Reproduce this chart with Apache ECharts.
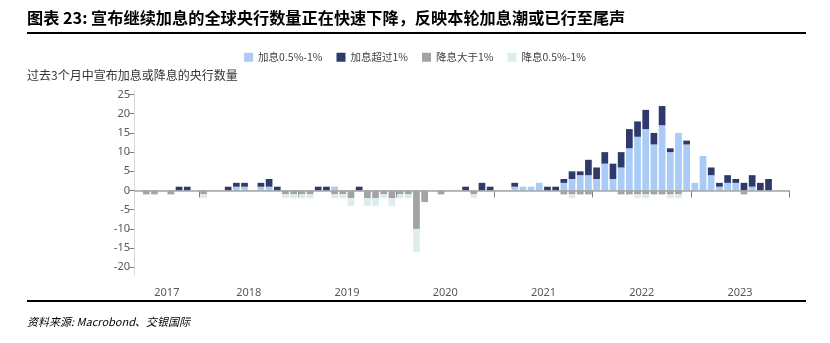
<!DOCTYPE html>
<html>
<head>
<meta charset="utf-8">
<script src="https://cdn.jsdelivr.net/npm/echarts@6/dist/echarts.min.js"></script>
<style>
  html, body { margin: 0; padding: 0; background: #ffffff; }
  #chart { width: 830px; height: 343px; }
</style>
</head>
<body>
<div id="chart"></div>
<script>
// Monthly categories, May 2017 – Dec 2023
const years = [2017, 2018, 2019, 2020, 2021, 2022, 2023];
const months = [];
years.forEach(function (y) {
  for (let m = (y === 2017 ? 5 : 1); m <= 12; m++) {
    months.push(y + '-' + (m < 10 ? '0' + m : '' + m));
  }
});

// Number of central banks (past 3 months), one row per year
const hike05 = [
  0, 0, 0, 0, 0, 0, 0, 0,
  0, 0, 0, 0, 1, 1, 0, 1, 1, 0, 0, 0,
  0, 0, 0, 0, 1, 0, 0, 0, 0, 0, 0, 0,
  0, 0, 0, 0, 0, 0, 0, 0, 0, 0, 0, 0,
  0, 0, 1, 1, 1, 2, 0, 0, 2, 3, 4, 4,
  3, 7, 3, 6, 11, 14, 16, 12, 17, 10, 15, 12,
  2, 9, 4, 1, 2, 2, 0, 1, 0, 0, 0, 0
];
const hikeOver1 = [
  0, 0, 0, 0, 0, 1, 1, 0,
  0, 0, 0, 1, 1, 1, 0, 1, 2, 1, 0, 0,
  0, 0, 1, 1, 0, 0, 0, 1, 0, 0, 0, 0,
  0, 0, 0, 0, 0, 0, 0, 0, 1, 0, 2, 1,
  0, 0, 1, 0, 0, 0, 1, 1, 1, 2, 1, 4,
  3, 3, 4, 4, 5, 4, 5, 3, 5, 1, 0, 1,
  0, 0, 2, 1, 2, 1, 2, 3, 2, 3, 0, 0
];
const cutOver1 = [
  0, -1, -1, 0, -1, 0, 0, 0,
  -1, 0, 0, 0, 0, 0, 0, 0, 0, 0, -1, -1,
  -1, -1, 0, 0, -1, -1, -2, 0, -2, -2, -1, -2,
  -1, -1, -10, -3, 0, -1, 0, 0, 0, -1, 0, 0,
  0, 0, 0, 0, 0, 0, 0, 0, -1, -1, -1, -1,
  0, 0, 0, -1, -1, -1, -1, -1, -1, -1, -1, 0,
  0, 0, 0, 0, 0, 0, -1, 0, 0, 0, 0, 0
];
const cut05 = [
  0, 0, 0, 0, 0, 0, 0, 0,
  -1, 0, 0, 0, 0, 0, 0, 0, 0, 0, -1, -1,
  -1, -1, 0, 0, -1, -1, -2, 0, -2, -2, -1, -2,
  -1, -1, -6, 0, 0, 0, 0, 0, 0, -1, 0, 0,
  0, 0, 0, 0, 0, 0, 0, 0, 0, -1, 0, 0,
  0, 0, 0, 0, 0, -1, -1, 0, 0, -1, -1, 0,
  0, 0, 0, 0, 0, 0, 0, 0, 0, 0, 0, 0
];

const seriesNames = ['加息0.5%-1%', '加息超过1%', '降息大于1%', '降息0.5%-1%'];
const seriesColors = ['#a9cbf5', '#2e3a6c', '#a3a3a3', '#dcedef'];
const yTicks = [-20, -15, -10, -5, 0, 5, 10, 15, 20, 25];

const chart = echarts.init(document.getElementById('chart'), null, { renderer: 'canvas' });

function asBars(arr) {
  return arr.map(function (v) { return v === 0 ? null : v; });
}

const seriesData = [hike05, hikeOver1, cutOver1, cut05];
const series = seriesData.map(function (arr, i) {
  const s = {
    name: seriesNames[i],
    type: 'bar',
    stack: 'banks',
    data: asBars(arr),
    barCategoryGap: '18%',
    itemStyle: { color: seriesColors[i] },
    emphasis: { disabled: true }
  };
  if (i === 0) {
    s.markLine = {
      silent: true,
      symbol: 'none',
      label: { show: false },
      lineStyle: { color: '#a6a6a6', width: 1.5, type: 'solid' },
      data: [{ yAxis: 0 }]
    };
  }
  return s;
});

const option = {
  animation: false,
  backgroundColor: '#ffffff',
  textStyle: { fontFamily: '"Noto Sans CJK SC", "Noto Sans", sans-serif' },
  legend: {
    top: 47,
    left: 'center',
    itemWidth: 9,
    itemHeight: 9,
    itemGap: 14,
    icon: 'rect',
    textStyle: { fontSize: 10.5, color: '#404040', fontFamily: '"Noto Sans CJK SC", sans-serif' },
    data: seriesNames
  },
  grid: { left: 134, right: 41, top: 90.7, bottom: 68, containLabel: false },
  xAxis: {
    type: 'category',
    data: months,
    boundaryGap: true,
    axisLine: { show: true, lineStyle: { color: '#d9d9d9', width: 1 } },
    axisTick: {
      show: true,
      length: 7,
      lineStyle: { color: '#7f7f7f' },
      interval: function (idx, val) { return /-01$/.test(val); }
    },
    axisLabel: {
      show: true,
      margin: 12,
      interval: function (idx, val) { return val === '2017-09' || (/-07$/.test(val) && val !== '2017-07'); },
      formatter: function (val) { return '{y|' + val.slice(0, 4) + '}'; },
      rich: {
        y: { fontSize: 11, color: '#595959', fontFamily: '"Noto Sans", sans-serif', padding: [0, 8, 0, 0] }
      }
    },
    splitLine: { show: false }
  },
  yAxis: {
    type: 'value',
    min: -22,
    max: 26,
    axisLine: { show: true, lineStyle: { color: '#d9d9d9', width: 1 } },
    axisTick: { show: true, length: 5, lineStyle: { color: '#7f7f7f' }, customValues: yTicks },
    axisLabel: {
      show: true,
      margin: 4,
      fontSize: 11,
      color: '#595959',
      fontFamily: '"Noto Sans", sans-serif',
      customValues: yTicks
    },
    splitLine: { show: false }
  },
  series: series,
  graphic: [
    {
      type: 'text',
      left: 27,
      top: 10,
      style: {
        text: '图表 23: 宣布继续加息的全球央行数量正在快速下降，反映本轮加息潮或已行至尾声',
        fontSize: 16.2,
        fontWeight: 'bold',
        fill: '#000000',
        fontFamily: '"Noto Sans CJK SC", sans-serif'
      }
    },
    {
      type: 'line',
      shape: { x1: 27, y1: 33, x2: 806, y2: 33 },
      style: { stroke: '#000000', lineWidth: 2 }
    },
    {
      type: 'text',
      left: 27,
      top: 69,
      style: {
        text: '过去3个月中宣布加息或降息的央行数量',
        fontSize: 12,
        fill: '#333333',
        fontFamily: '"Noto Sans CJK SC", sans-serif'
      }
    },
    {
      type: 'line',
      shape: { x1: 27, y1: 301, x2: 806, y2: 301 },
      style: { stroke: '#000000', lineWidth: 2 }
    },
    {
      type: 'text',
      left: 27,
      top: 316,
      style: {
        text: '资料来源: Macrobond、交银国际',
        fontSize: 11,
        fontStyle: 'italic',
        fill: '#000000',
        fontFamily: '"Noto Sans CJK SC", sans-serif'
      }
    }
  ]
};

chart.setOption(option);
</script>
</body>
</html>
